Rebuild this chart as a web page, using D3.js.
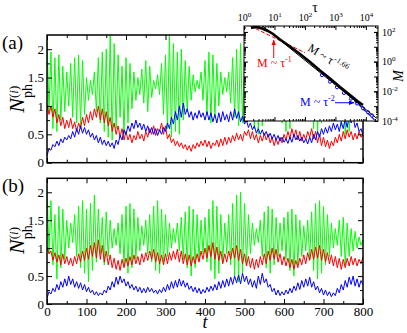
<!DOCTYPE html>
<html>
<head>
<meta charset="utf-8">
<script src="https://cdn.jsdelivr.net/npm/d3@7"></script>
<style>
  body { margin: 0; background: #fff; }
  svg { display: block; font-family: "Liberation Serif", "Times New Roman", serif; }
</style>
</head>
<body>
<svg id="chart" width="407" height="333"></svg>
<script>
// sampling step of the time series (t = 0 .. 800)
const dt = 5;

// panel (a)
const greenA = [2.2,0.9,1.95,0.6,1.85,0.55,1.9,0.75,1.7,0.9,1.6,
  1.0,1.75,0.8,1.85,0.7,1.9,0.65,1.8,0.85,1.5,
  1.1,1.45,1.2,1.6,0.9,1.85,0.7,1.95,0.55,2.0,
  0.45,2.25,0.4,2.1,0.6,1.9,0.8,1.7,0.5,1.85,
  0.7,1.75,0.95,1.6,1.1,1.5,1.2,1.65,1.05,1.8,
  0.9,1.7,1.15,1.45,1.3,1.55,1.2,1.75,0.85,1.9,
  0.6,2.25,0.45,2.1,0.55,1.95,0.5,2.0,0.75,1.8,
  0.9,1.7,1.1,1.55,1.25,1.45,1.3,1.6,1.1,1.8,
  0.85,1.95,0.7,1.9,0.8,1.75,1.0,1.6,1.2,1.5,
  1.25,1.6,1.05,1.85,0.8,2.0,0.65,2.1,0.7,1.9,
  0.9,1.75,1.0,1.6,0.6,1.95,0.5,2.1,0.65,1.85,
  0.85,1.7,1.05,1.5,1.2,1.65,0.95,1.8,0.7,2.0,
  0.55,2.15,0.6,1.9,0.85,1.7,1.1,1.55,1.2,1.7,
  1.0,1.85,0.75,2.0,0.6,2.1,0.5,1.95,0.7,1.8,
  0.9,1.65,1.1,1.5,1.2,1.7,0.95,1.85,0.65,2.05,
  0.5,2.2,0.55,1.9,0.8,1.7,1.0,1.6,1.15,1.5];
const redA = [1.02,0.85,1.0,0.8,0.95,0.7,0.85,0.65,0.8,0.6,0.75,
  0.62,0.78,0.6,0.72,0.55,0.7,0.6,0.8,0.65,0.85,
  0.7,0.9,0.75,0.95,0.8,1.0,0.75,0.95,0.7,0.9,
  0.65,0.8,0.55,0.7,0.5,0.65,0.45,0.6,0.4,0.55,
  0.4,0.5,0.35,0.48,0.4,0.55,0.42,0.5,0.38,0.55,
  0.45,0.6,0.5,0.65,0.48,0.6,0.55,0.7,0.5,0.65,
  0.42,0.5,0.35,0.42,0.3,0.38,0.28,0.35,0.25,0.32,
  0.22,0.3,0.2,0.32,0.25,0.35,0.28,0.38,0.3,0.4,
  0.28,0.38,0.25,0.35,0.3,0.4,0.28,0.42,0.3,0.45,
  0.32,0.45,0.35,0.48,0.38,0.52,0.4,0.5,0.38,0.55,
  0.48,0.58,0.42,0.55,0.4,0.5,0.35,0.48,0.38,0.52,
  0.4,0.5,0.35,0.45,0.3,0.42,0.32,0.45,0.35,0.5,
  0.4,0.55,0.42,0.6,0.45,0.58,0.4,0.55,0.38,0.5,
  0.4,0.55,0.45,0.6,0.42,0.55,0.35,0.5,0.3,0.45,
  0.28,0.4,0.25,0.38,0.3,0.45,0.35,0.5,0.38,0.55,
  0.42,0.58,0.45,0.55,0.4,0.52,0.42,0.55,0.45,0.5];
const blueA = [0.12,0.25,0.22,0.32,0.28,0.38,0.3,0.42,0.35,0.45,0.4,
  0.48,0.42,0.55,0.45,0.6,0.5,0.65,0.52,0.62,0.5,
  0.58,0.45,0.52,0.4,0.48,0.35,0.45,0.32,0.4,0.3,
  0.38,0.28,0.35,0.25,0.4,0.32,0.48,0.4,0.58,0.5,
  0.65,0.55,0.7,0.6,0.75,0.62,0.7,0.58,0.68,0.55,
  0.65,0.52,0.62,0.5,0.6,0.48,0.58,0.5,0.62,0.55,
  0.7,0.6,0.8,0.68,0.9,0.75,1.0,0.8,1.05,0.85,
  0.95,0.8,0.9,0.75,0.88,0.78,0.92,0.8,0.88,0.75,
  0.9,0.75,0.88,0.72,0.85,0.7,0.88,0.72,0.9,0.75,
  0.85,0.72,0.9,0.75,0.95,0.78,0.9,0.72,0.82,0.68,
  0.75,0.62,0.7,0.58,0.65,0.52,0.6,0.5,0.58,0.48,
  0.55,0.45,0.52,0.42,0.5,0.4,0.48,0.38,0.45,0.36,
  0.42,0.34,0.45,0.36,0.5,0.4,0.48,0.38,0.45,0.35,
  0.42,0.33,0.45,0.35,0.5,0.4,0.55,0.45,0.6,0.5,
  0.62,0.52,0.65,0.55,0.7,0.58,0.68,0.55,0.72,0.6,
  0.78,0.62,0.85,0.7,0.8,0.62,0.7,0.55,0.6,0.48];

// panel (b)
const greenB = [2.12,0.9,1.85,0.7,1.6,0.45,1.75,0.65,1.7,0.8,1.5,
  1.0,1.45,1.1,1.6,0.85,1.75,0.65,1.85,0.55,1.7,
  0.4,1.8,0.6,1.95,0.75,1.7,0.9,1.55,0.7,1.65,
  0.85,1.5,1.0,1.35,1.05,1.45,0.9,1.6,0.7,1.75,
  0.55,1.8,0.65,1.7,0.8,1.55,0.95,1.4,1.05,1.5,
  0.9,1.6,0.75,1.75,0.6,1.85,0.55,1.7,0.7,1.6,
  0.85,1.45,1.0,1.35,1.1,1.45,0.95,1.55,0.8,1.65,
  0.65,1.75,0.5,1.7,0.65,1.6,0.8,1.5,0.9,1.55,
  0.75,1.7,0.6,1.85,0.45,1.75,0.55,1.6,0.75,1.45,
  0.9,1.6,0.7,1.8,0.5,1.95,0.4,2.0,0.55,1.8,
  0.7,1.6,0.9,1.45,1.05,1.35,1.1,1.5,0.85,1.65,
  0.65,1.75,0.55,1.7,0.7,1.55,0.85,1.45,0.95,1.55,
  0.8,1.65,0.6,1.7,0.5,1.6,0.7,1.5,0.85,1.4,
  0.95,1.5,0.8,1.65,0.6,1.8,0.45,1.85,0.55,1.75,
  0.7,1.6,0.85,1.45,1.0,1.35,1.05,1.5,0.85,1.55,
  0.7,1.45,0.85,1.35,0.95,1.3,1.0,1.2,1.05,1.15];
const redB = [1.02,0.9,0.95,0.78,0.92,0.75,0.88,0.7,0.9,0.72,0.85,
  0.7,0.82,0.68,0.85,0.72,0.9,0.75,0.95,0.78,1.0,
  0.8,1.05,0.85,1.1,0.82,1.15,0.8,1.05,0.75,0.95,
  0.7,0.88,0.65,0.82,0.62,0.78,0.6,0.8,0.65,0.82,
  0.68,0.85,0.7,0.88,0.72,0.85,0.7,0.9,0.75,0.92,
  0.78,0.95,0.8,0.98,0.75,0.92,0.72,0.88,0.7,0.9,
  0.72,0.92,0.78,0.95,0.8,0.98,0.75,0.95,0.72,0.9,
  0.7,0.88,0.68,0.85,0.72,0.9,0.75,0.95,0.8,1.0,
  0.82,1.05,0.85,1.1,0.8,1.02,0.78,0.95,0.72,0.9,
  0.75,0.95,0.8,1.0,0.82,1.05,0.78,0.98,0.72,0.9,
  0.68,0.85,0.65,0.82,0.62,0.8,0.65,0.85,0.7,0.9,
  0.72,0.95,0.78,1.0,0.8,0.98,0.75,0.9,0.7,0.85,
  0.68,0.82,0.65,0.8,0.62,0.78,0.65,0.82,0.7,0.88,
  0.72,0.92,0.78,0.98,0.8,1.02,0.82,1.05,0.78,0.98,
  0.75,0.92,0.72,0.88,0.68,0.85,0.65,0.82,0.62,0.8,
  0.65,0.82,0.68,0.85,0.7,0.82,0.68,0.8,0.72,0.85];
const blueB = [0.1,0.22,0.18,0.28,0.22,0.35,0.25,0.4,0.3,0.45,0.32,
  0.5,0.35,0.45,0.3,0.4,0.28,0.38,0.25,0.35,0.22,
  0.3,0.2,0.25,0.16,0.22,0.15,0.2,0.16,0.25,0.2,
  0.32,0.25,0.4,0.3,0.48,0.35,0.5,0.38,0.45,0.32,
  0.4,0.28,0.35,0.25,0.32,0.22,0.3,0.2,0.28,0.2,
  0.3,0.22,0.28,0.2,0.25,0.18,0.26,0.2,0.3,0.22,
  0.35,0.25,0.4,0.28,0.42,0.3,0.45,0.32,0.42,0.3,
  0.38,0.26,0.32,0.22,0.3,0.2,0.28,0.18,0.26,0.2,
  0.3,0.22,0.32,0.24,0.35,0.25,0.4,0.28,0.42,0.3,
  0.45,0.32,0.48,0.35,0.5,0.38,0.52,0.36,0.55,0.4,
  0.5,0.35,0.45,0.3,0.42,0.28,0.5,0.35,0.55,0.38,
  0.45,0.3,0.35,0.22,0.28,0.16,0.25,0.15,0.22,0.16,
  0.25,0.18,0.28,0.2,0.32,0.24,0.38,0.26,0.42,0.3,
  0.45,0.32,0.48,0.3,0.4,0.25,0.32,0.2,0.28,0.16,
  0.25,0.15,0.22,0.13,0.2,0.15,0.28,0.2,0.35,0.25,
  0.42,0.3,0.48,0.35,0.5,0.32,0.45,0.3,0.42,0.35];

const xTicks = [0,100,200,300,400,500,600,700,800];
const xMinor = [50,150,250,350,450,550,650,750];
const yTicks = [0,0.5,1,1.5,2];
const yMinor = [0.25,0.75,1.25,1.75];

// inset: M(tau), log-log
const blackTau = [1.70,2.48,3.90,6.13,8.95,15.2,32.3,68.8,147,312,665,1415,3013,5513,8040];
const blackM   = [184,215,171,116,72.6,30.9,10.4,3.26,0.943,0.252,0.0729,0.0195,0.00563,0.00205,0.00119];
const fitTau = [4.05, 22650];          // M ~ tau^-1.66
const fitM   = [251, 1.516e-4];
const redFitTau = [1.6, 100];          // M ~ tau^-1
const redFitM   = [250, 4];
const blueFitTau = [3013, 21500];      // M ~ tau^-2
const blueFitM   = [0.0046, 9.66e-5];
const blueTau = [363,665,1128,1914,3250,5117,8040,11740,15900];
const blueM   = [0.1236,0.0451,0.01888,0.0078,0.00322,0.00153,0.000715,0.000385,0.000234];

const svg = d3.select("#chart");
svg.append("rect").attr("width", 407).attr("height", 333).attr("fill", "#fff");

const x = d3.scaleLinear().domain([0, 800]).range([47, 363]);
const colors = ["#00ff00", "#ff0000", "#0000ff"];
const panels = [
  {tag: "(a)", top: 35, bottom: 162.7, series: [greenA, redA, blueA], labels: false},
  {tag: "(b)", top: 178.3, bottom: 304, series: [greenB, redB, blueB], labels: true}
];
const none = () => "";

function styleAxis(g) {
  g.attr("font-family", null).attr("font-size", 13);
  g.select(".domain").remove();
  g.selectAll("line").attr("stroke", "#000");
}

panels.forEach((p, i) => {
  const y = d3.scaleLinear().domain([0, 2.25]).range([p.bottom, p.top]);
  const g = svg.append("g");
  svg.append("clipPath").attr("id", "clip" + i)
    .append("rect").attr("x", 47).attr("y", p.top)
    .attr("width", 316).attr("height", p.bottom - p.top);

  const line = d3.line().x((d, j) => x(j * dt)).y(d => y(d));
  p.series.forEach((s, k) => {
    g.append("path")
      .attr("clip-path", "url(#clip" + i + ")")
      .attr("d", line(s))
      .attr("fill", "none")
      .attr("stroke", colors[k])
      .attr("stroke-width", 1);
  });

  g.append("g").attr("transform", "translate(0," + p.bottom + ")")
    .call(d3.axisBottom(x).tickValues(xTicks).tickSize(-5).tickPadding(3)
      .tickFormat(p.labels ? d3.format("d") : none))
    .call(styleAxis);
  g.append("g").attr("transform", "translate(0," + p.bottom + ")")
    .call(d3.axisBottom(x).tickValues(xMinor).tickSize(-3).tickFormat(none)).call(styleAxis);
  g.append("g").attr("transform", "translate(0," + p.top + ")")
    .call(d3.axisTop(x).tickValues(xTicks).tickSize(-5).tickFormat(none)).call(styleAxis);
  g.append("g").attr("transform", "translate(0," + p.top + ")")
    .call(d3.axisTop(x).tickValues(xMinor).tickSize(-3).tickFormat(none)).call(styleAxis);

  g.append("g").attr("transform", "translate(47,0)")
    .call(d3.axisLeft(y).tickValues(yTicks).tickSize(-5).tickPadding(3).tickFormat(d3.format("~g")))
    .call(styleAxis);
  g.append("g").attr("transform", "translate(47,0)")
    .call(d3.axisLeft(y).tickValues(yMinor).tickSize(-3).tickFormat(none)).call(styleAxis);
  g.append("g").attr("transform", "translate(363,0)")
    .call(d3.axisRight(y).tickValues(yTicks).tickSize(-5).tickFormat(none)).call(styleAxis);
  g.append("g").attr("transform", "translate(363,0)")
    .call(d3.axisRight(y).tickValues(yMinor).tickSize(-3).tickFormat(none)).call(styleAxis);

  g.append("rect").attr("x", 47).attr("y", p.top)
    .attr("width", 316).attr("height", p.bottom - p.top)
    .attr("fill", "none").attr("stroke", "#000").attr("stroke-width", 1.5);

  g.append("text").attr("x", 2).attr("y", p.top + 14).attr("font-size", 19).text(p.tag);

  const lab = g.append("text")
    .attr("transform", "translate(24," + (p.bottom - 50) + ") rotate(-90)");
  lab.append("tspan").attr("font-style", "italic").attr("font-size", 22).text("N");
  lab.append("tspan").attr("font-size", 14).attr("dy", 8).text("ph");
  lab.append("tspan").attr("font-size", 13).attr("dx", -14).attr("dy", -14)
    .text("(").append("tspan").attr("font-style", "italic").text("i");
  lab.append("tspan").attr("font-size", 13).text(")");
});

svg.append("text").attr("x", 205).attr("y", 328).attr("text-anchor", "middle")
  .attr("font-style", "italic").attr("font-size", 18).text("t");

// ---- inset ----
const xI = d3.scaleLog().domain([1, 25000]).range([244, 378]);
const yI = d3.scaleLog().domain([1e-4, Math.pow(10, 2.4)]).range([121, 26]);
const inset = svg.append("g");
inset.append("rect").attr("x", 244).attr("y", 26).attr("width", 134).attr("height", 95)
  .attr("fill", "#fff");
svg.append("clipPath").attr("id", "clipI")
  .append("rect").attr("x", 244).attr("y", 26).attr("width", 134).attr("height", 95);

const defs = svg.append("defs");
[["arRed", "#ff0000"], ["arBlue", "#0000ff"]].forEach(([id, c]) => {
  defs.append("marker").attr("id", id).attr("viewBox", "0 0 10 10")
    .attr("refX", 9).attr("refY", 5).attr("markerWidth", 6).attr("markerHeight", 6)
    .attr("orient", "auto-start-reverse")
    .append("path").attr("d", "M0,1 L10,5 L0,9 z").attr("fill", c);
});

const lineI = d3.line().x(d => xI(d[0])).y(d => yI(d[1]));
const zip = (a, b) => a.map((v, i) => [v, b[i]]);
const ci = inset.append("g").attr("clip-path", "url(#clipI)");

ci.append("path").attr("d", lineI(zip(redFitTau, redFitM)))
  .attr("fill", "none").attr("stroke", "#ff0000").attr("stroke-width", 1).attr("stroke-dasharray", "4,2");
ci.selectAll("circle.bl").data(zip(blueTau, blueM)).join("circle")
  .attr("cx", d => xI(d[0])).attr("cy", d => yI(d[1])).attr("r", 1.6)
  .attr("fill", "none").attr("stroke", "#0000ff").attr("stroke-width", 1);
ci.append("path").attr("d", lineI(zip(blueFitTau, blueFitM)))
  .attr("fill", "none").attr("stroke", "#0000ff").attr("stroke-width", 1.2).attr("stroke-dasharray", "4,2");
ci.append("path").attr("d", lineI(zip(blackTau, blackM)))
  .attr("fill", "none").attr("stroke", "#000").attr("stroke-width", 2.6);
ci.append("path").attr("d", lineI(zip(fitTau, fitM)))
  .attr("fill", "none").attr("stroke", "#000").attr("stroke-width", 1);

// inset axes
const tauMajor = [1, 10, 100, 1000, 10000];
const tauMinor = [];
for (let e = 0; e <= 4; e++) for (let k = 2; k <= 9; k++) if (k * Math.pow(10, e) < 25000) tauMinor.push(k * Math.pow(10, e));
const mMajor = [1e-4, 1e-3, 1e-2, 1e-1, 1, 10, 100];
const mLabels = [1e-4, 1e-2, 1, 100];
const mMinor = [];
for (let e = -4; e <= 2; e++) for (let k = 2; k <= 9; k++) if (k * Math.pow(10, e) < 250) mMinor.push(k * Math.pow(10, e));

function styleInset(g) {
  g.attr("font-family", null).attr("font-size", 10);
  g.select(".domain").remove();
  g.selectAll("line").attr("stroke", "#000");
}
function powLabel(g) {
  g.selectAll("text").each(function (d) {
    const t = d3.select(this);
    t.text("10");
    t.append("tspan").attr("font-size", 7).attr("dy", -4).text(Math.round(Math.log10(d)));
  });
}

inset.append("g").attr("transform", "translate(0,26)")
  .call(d3.axisTop(xI).tickValues(tauMajor).tickSize(-4).tickPadding(5)).call(styleInset).call(powLabel);
inset.append("g").attr("transform", "translate(0,26)")
  .call(d3.axisTop(xI).tickValues(tauMinor).tickSize(-2).tickFormat(none)).call(styleInset);
inset.append("g").attr("transform", "translate(0,121)")
  .call(d3.axisBottom(xI).tickValues(tauMajor).tickSize(-4).tickFormat(none)).call(styleInset);
inset.append("g").attr("transform", "translate(0,121)")
  .call(d3.axisBottom(xI).tickValues(tauMinor).tickSize(-2).tickFormat(none)).call(styleInset);

inset.append("g").attr("transform", "translate(378,0)")
  .call(d3.axisRight(yI).tickValues(mLabels).tickSize(-4).tickPadding(4)).call(styleInset).call(powLabel);
inset.append("g").attr("transform", "translate(378,0)")
  .call(d3.axisRight(yI).tickValues(mMajor).tickSize(-4).tickFormat(none)).call(styleInset);
inset.append("g").attr("transform", "translate(378,0)")
  .call(d3.axisRight(yI).tickValues(mMinor).tickSize(-2).tickFormat(none)).call(styleInset);
inset.append("g").attr("transform", "translate(244,0)")
  .call(d3.axisLeft(yI).tickValues(mMajor).tickSize(-4).tickFormat(none)).call(styleInset);
inset.append("g").attr("transform", "translate(244,0)")
  .call(d3.axisLeft(yI).tickValues(mMinor).tickSize(-2).tickFormat(none)).call(styleInset);

inset.append("rect").attr("x", 244).attr("y", 26).attr("width", 134).attr("height", 95)
  .attr("fill", "none").attr("stroke", "#000").attr("stroke-width", 1);

inset.append("text").attr("x", 315).attr("y", 12).attr("text-anchor", "middle")
  .attr("font-size", 14).text("τ");
inset.append("text").attr("transform", "translate(403,76) rotate(-90)").attr("text-anchor", "middle")
  .attr("font-style", "italic").attr("font-size", 14).text("M");

// annotations
function powText(sel, base, exp, color) {
  sel.attr("fill", color).attr("font-size", 12);
  sel.append("tspan").text(base);
  sel.append("tspan").attr("font-size", 8).attr("dy", -5).text(exp);
}
inset.append("text").attr("x", xI(2.67)).attr("y", yI(0.434)).call(powText, "M ~ τ", "-1", "#ff0000");
inset.append("line").attr("x1", xI(9.44)).attr("x2", xI(9.44)).attr("y1", yI(1.75)).attr("y2", yI(28.6))
  .attr("stroke", "#ff0000").attr("stroke-width", 1).attr("marker-end", "url(#arRed)");
inset.append("text").attr("x", xI(68.8)).attr("y", yI(0.00102)).call(powText, "M ~ τ", "-2", "#0000ff");
inset.append("line").attr("x1", xI(970)).attr("x2", xI(4070)).attr("y1", yI(0.0017)).attr("y2", yI(0.0017))
  .attr("stroke", "#0000ff").attr("stroke-width", 1).attr("marker-end", "url(#arBlue)");
inset.append("text").attr("transform", "translate(" + xI(117) + "," + yI(6.07) + ") rotate(32)")
  .call(powText, "M ~ τ", "-1.66", "#000");
</script>
</body>
</html>
